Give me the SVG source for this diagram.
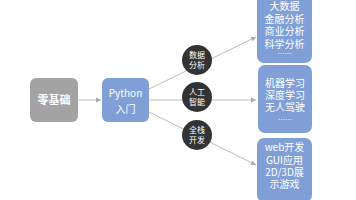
<svg xmlns="http://www.w3.org/2000/svg" width="356" height="200" viewBox="0 0 356 200">
<defs>
<style>
.t{font-family:"Noto Sans CJK SC","Liberation Sans",sans-serif;fill:#fff;text-anchor:middle}
.b{fill:#809fd6}
.c{fill:#333}
.l{stroke:#bdbdbd;stroke-width:1;fill:none}
</style>
<marker id="a" markerWidth="6" markerHeight="6" refX="5" refY="3" orient="auto" markerUnits="userSpaceOnUse"><path d="M0,0.5 L5,3 L0,5.5 z" fill="#aaa"/></marker>
</defs>
<rect width="356" height="200" fill="#fff"/>
<g id="connectors">
<line class="l" x1="78" y1="100" x2="101" y2="100" marker-end="url(#a)"/>
<line class="l" x1="149" y1="89" x2="256" y2="37" marker-end="url(#a)"/>
<line class="l" x1="149" y1="100" x2="256" y2="100" marker-end="url(#a)"/>
<line class="l" x1="149" y1="112" x2="256" y2="165" marker-end="url(#a)"/>
</g>
<g id="zero">
<rect x="30" y="78" width="48" height="44" rx="6" fill="#a3a3a3"/>
<text class="t" x="54" y="104" font-size="11" font-weight="bold">零基础</text>
</g>
<g id="python">
<rect class="b" x="102" y="78" width="47" height="44" rx="6"/>
<text class="t" x="125.5" y="97" font-size="10">Python</text>
<text class="t" x="125.5" y="113" font-size="10">入门</text>
</g>
<g id="c1">
<circle class="c" cx="197" cy="60" r="15"/>
<text class="t" x="197" y="58" font-size="8">数据</text>
<text class="t" x="197" y="68" font-size="8">分析</text>
</g>
<g id="c2">
<circle class="c" cx="197" cy="97" r="15"/>
<text class="t" x="197" y="95" font-size="8">人工</text>
<text class="t" x="197" y="105" font-size="8">智能</text>
</g>
<g id="c3">
<circle class="c" cx="197" cy="135" r="15"/>
<text class="t" x="197" y="133" font-size="8">全栈</text>
<text class="t" x="197" y="143" font-size="8">开发</text>
</g>
<g id="b1">
<rect class="b" x="257" y="-6" width="55" height="69" rx="7"/>
<text class="t" x="284.5" y="10" font-size="10">大数据</text>
<text class="t" x="284.5" y="22.5" font-size="10">金融分析</text>
<text class="t" x="284.5" y="35" font-size="10">商业分析</text>
<text class="t" x="284.5" y="47.5" font-size="10">科学分析</text>
<text class="t" x="284.5" y="55.5" font-size="7">……</text>
</g>
<g id="b2">
<rect class="b" x="258" y="65" width="54" height="68" rx="7"/>
<text class="t" x="285" y="87" font-size="10">机器学习</text>
<text class="t" x="285" y="99" font-size="10">深度学习</text>
<text class="t" x="285" y="111" font-size="10">无人驾驶</text>
<text class="t" x="285" y="122" font-size="7">……</text>
</g>
<g id="b3">
<rect class="b" x="257" y="138" width="55" height="64" rx="7"/>
<text class="t" x="284.5" y="151" font-size="10">web开发</text>
<text class="t" x="284.5" y="164" font-size="10">GUI应用</text>
<text class="t" x="284.5" y="176" font-size="10">2D/3D展</text>
<text class="t" x="284.5" y="188" font-size="10">示游戏</text>
</g>
</svg>
